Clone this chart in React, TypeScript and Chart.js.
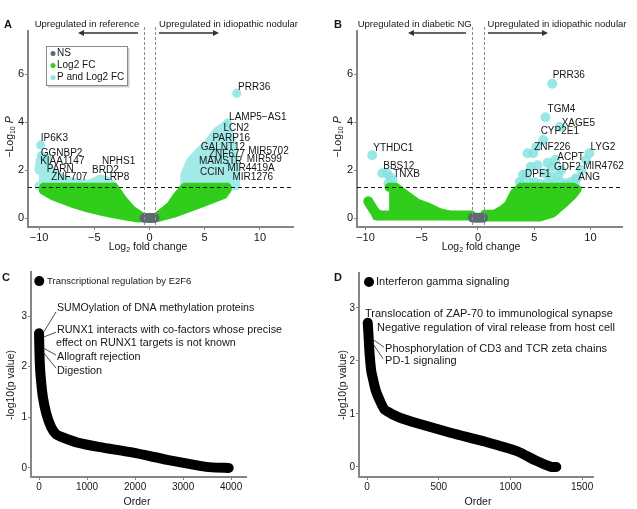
import React, { useEffect, useRef } from 'react';
import { Chart, registerables } from 'chart.js';

Chart.register(...registerables);

const FONT = '"Liberation Sans", Arial, Helvetica, sans-serif';
const AXIS_COLOR = '#858585';
const TEXT_COLOR = '#151515';
const GREEN = '#30cd1a';
const CYAN = '#a2eae7';
const CYAN_PT = 'rgba(135, 228, 224, 0.85)';
const NS_GRAY = '#5d6b70';

const FC_CUT = 0.5;
const P_CUT = 1.3;
const LEGEND_LABELS = ['NS', 'Log2 FC', 'P and Log2 FC'];

// ---------- Panel A : reference vs idiopathic nodular ----------
const A_NS_X = [-0.45, -0.2, 0, 0.2, 0.45];
const A_NS_Y = [0, 0, 0, 0, 0];
// green cloud, left lobe (upper / lower edge)
const A_GL_UP_X = [-9.6, -3.2, -2.4, -1.6, -0.6];
const A_GL_UP_Y = [1.28, 1.28, 0.75, 0.33, 0.02];
const A_GL_LO_X = [-9.6, -8.7, -7.0, -5.6, -4.3, -3.3, -2.0, -1.0, -0.6];
const A_GL_LO_Y = [1.15, 0.92, 0.62, 0.42, 0.28, 0.18, 0.07, 0.0, 0.02];
// green cloud, right lobe
const A_GR_UP_X = [0.7, 1.9, 2.5, 3.2, 7.05];
const A_GR_UP_Y = [0.05, 0.5, 0.9, 1.28, 1.28];
const A_GR_LO_X = [0.7, 2.2, 4.6, 6.7, 7.05];
const A_GR_LO_Y = [0.02, 0.2, 0.6, 0.98, 1.2];
// cyan cloud, left
const A_CL_UP_X = [-10.0, -9.9, -9.5, -9.0, -8.4, -7.5, -6.5, -5.5, -5.0, -4.4, -3.9, -3.4, -3.3];
const A_CL_UP_Y = [2.0, 2.4, 2.3, 2.0, 1.75, 1.55, 1.45, 1.4, 1.5, 1.62, 1.55, 1.4, 1.32];
const A_CL_LO_X = [-10.0, -3.3];
const A_CL_LO_Y = [1.35, 1.32];
// cyan cloud, right
const A_CR_UP_X = [3.15, 3.2, 3.7, 4.5, 5.3, 6.1, 6.9, 7.3, 7.6, 7.75, 7.8];
const A_CR_UP_Y = [1.35, 1.8, 2.35, 2.75, 3.1, 3.6, 3.85, 3.4, 2.8, 2.0, 1.35];
const A_CR_LO_X = [3.15, 7.8];
const A_CR_LO_Y = [1.35, 1.35];
const A_CYAN_PTS_X = [-9.85, -9.8, -9.3, 7.05, 7.9];
const A_CYAN_PTS_Y = [3.04, 2.6, 2.5, 3.96, 5.2];
const A_GENES = ['IP6K3', 'GGNBP2', 'KIAA1147', 'PARN', 'ZNF707', 'NPHS1', 'BRD2', 'LRP8', 'PRR36', 'LAMP5\u2212AS1', 'LCN2', 'PARP16', 'GALNT12', 'ZNF677', 'MIR5702', 'MAMSTR', 'MIR599', 'CCIN', 'MIR4419A', 'MIR1276'];
const A_GENE_X = [-9.85, -9.85, -9.9, -9.3, -8.9, -4.3, -5.2, -4.1, 8.03, 7.21, 6.7, 5.7, 4.64, 5.39, 8.94, 4.48, 8.82, 4.58, 7.06, 7.52];
const A_GENE_Y = [3.32, 2.72, 2.38, 2.04, 1.72, 2.35, 2.0, 1.7, 5.47, 4.22, 3.74, 3.32, 2.97, 2.67, 2.8, 2.35, 2.44, 1.89, 2.07, 1.7];

// ---------- Panel B : diabetic NG vs idiopathic nodular ----------
const B_NS_X = [-0.45, -0.2, 0, 0.2, 0.45];
const B_NS_Y = [0.01, 0.01, 0.01, 0.01, 0.01];
const B_HOOK_X = [-9.75, -9.5, -9.1, -8.8];
const B_HOOK_Y = [0.7, 0.5, 0.22, 0.12];
const B_BAND_X = [-9.0, -0.6];
const B_BAND_Y = [0.1, 0.1];
const B_GL_UP_X = [-7.9, -7.3, -6.5, -5.4, -4.4, -3.4, -2.5];
const B_GL_UP_Y = [1.28, 1.28, 1.0, 0.62, 0.45, 0.22, 0.12];
const B_GL_LO_X = [-7.9, -2.5];
const B_GL_LO_Y = [0.1, 0.1];
const B_GR_UP_X = [0.6, 1.5, 2.2, 2.7, 3.25, 3.8, 8.5, 8.8];
const B_GR_UP_Y = [0.16, 0.16, 0.35, 0.55, 1.05, 1.28, 1.28, 1.2];
const B_GR_LO_X = [0.6, 5.5, 6.6, 7.6, 8.4, 8.8];
const B_GR_LO_Y = [0.04, 0.04, 0.2, 0.6, 0.95, 1.2];
const B_CYAN_X = [-9.4, -8.5, -8.1, -7.8, -7.6, -7.95,
  6.6, 6.0, 7.3, 5.8, 5.2, 4.9, 4.4, 5.3, 6.2, 4.7, 5.9, 6.5, 4.0, 3.7, 4.3, 9.9, 9.6, 9.2, 8.7, 8.3, 6.85, 6.55, 7.14, 7.4, 8.77, 6.1, 7.8, 5.0,
  3.9, 4.6, 5.5, 6.8, 7.3, 8.0, 8.6];
const B_CYAN_Y = [2.62, 1.87, 1.87, 1.7, 1.58, 1.45,
  5.6, 4.2, 3.8, 3.25, 2.97, 2.7, 2.7, 2.2, 2.3, 2.14, 1.86, 1.72, 1.8, 1.5, 1.79, 2.7, 2.42, 2.0, 1.65, 1.5, 2.42, 2.14, 1.79, 2.0, 1.65, 1.45, 1.45, 1.5,
  1.4, 1.45, 1.42, 1.4, 1.5, 1.38, 1.42];
const B_GENES = ['YTHDC1', 'BBS12', 'TNXB', 'PRR36', 'TGM4', 'XAGE5', 'CYP2E1', 'ZNF226', 'LYG2', 'ACPT', 'MIR4762', 'GDF2', 'DPF1', 'ANG'];
const B_GENE_X = [-9.3, -8.42, -7.53, 6.64, 6.19, 7.44, 5.57, 5.0, 10.0, 7.05, 9.36, 6.76, 4.18, 8.92];
const B_GENE_Y = [2.9, 2.17, 1.82, 5.96, 4.53, 3.97, 3.6, 2.94, 2.94, 2.53, 2.17, 2.1, 1.82, 1.72];

const VOLCANO_X_TICKS = [-10, -5, 0, 5, 10];
const VOLCANO_Y_TICKS = [0, 2, 4, 6];

// ---------- Panel C : pathways ----------
const C_TOP_X = [5];
const C_TOP_Y = [3.69];
const C_CURVE_X = [0, 5, 10, 20, 40, 80, 150, 250, 350, 500, 800, 1270, 1960, 2670, 3350, 3600, 3950];
const C_CURVE_Y = [2.66, 2.45, 2.25, 2.0, 1.74, 1.4, 1.08, 0.81, 0.67, 0.6, 0.5, 0.41, 0.3, 0.16, 0.04, 0.01, 0.0];
const C_TERMS = ['Transcriptional regulation by E2F6', 'SUMOylation of DNA methylation proteins', 'RUNX1 interacts with co-factors whose precise', 'effect on RUNX1 targets is not known', 'Allograft rejection', 'Digestion'];
const C_TERM_X = [167, 375, 375, 354, 375, 375];
const C_TERM_Y = [3.69, 3.16, 2.72, 2.47, 2.19, 1.91];
const C_LEADERS = [[83, 2.66, 354, 3.08], [83, 2.58, 354, 2.68], [83, 2.37, 354, 2.23], [83, 2.29, 354, 1.97]];
const C_X_TICKS = [0, 1000, 2000, 3000, 4000];
const C_Y_TICKS = [0, 1, 2, 3];

// ---------- Panel D : pathways ----------
const D_TOP_X = [14];
const D_TOP_Y = [3.49];
const D_CURVE_X = [5, 10, 15, 22, 30, 45, 60, 88, 123, 180, 239, 356, 588, 820, 1053, 1169, 1285, 1320];
const D_CURVE_Y = [2.72, 2.5, 2.25, 2.0, 1.8, 1.62, 1.45, 1.26, 1.08, 0.99, 0.92, 0.82, 0.64, 0.48, 0.29, 0.13, 0.0, 0.0];
const D_TERMS = ['Interferon gamma signaling', 'Translocation of ZAP-70 to immunological synapse', 'Negative regulation of viral release from host cell', 'Phosphorylation of CD3 and TCR zeta chains', 'PD-1 signaling'];
const D_TERM_X = [63, -14, 70, 126, 126];
const D_TERM_Y = [3.49, 2.89, 2.62, 2.23, 2.0];
const D_LEADERS = [[28, 2.43, 119, 2.26], [28, 2.38, 112, 2.04]];
const D_X_TICKS = [0, 500, 1000, 1500];
const D_Y_TICKS = [0, 1, 2, 3];

// ---------- helpers ----------
const pts = (xs: number[], ys: number[]) => xs.map((x, i) => ({ x, y: ys[i] }));
const fmt = (v: any) => String(v).replace('-', '\u2212');

function edge(xs: number[], ys: number[], color: string, order: number, fill: any, bw = 9) {
  return {
    data: pts(xs, ys), showLine: true, fill, backgroundColor: color, borderColor: color,
    borderWidth: bw, borderJoinStyle: 'round', borderCapStyle: 'round', pointRadius: 0, tension: 0, order,
  };
}
// a cloud: upper edge, then lower edge filled to the upper one
function cloud(ux: number[], uy: number[], lx: number[], ly: number[], color: string, order: number) {
  return [edge(ux, uy, color, order, false), edge(lx, ly, color, order, '-1')];
}
function dots(xs: number[], ys: number[], color: string, r: number, order: number) {
  return { data: pts(xs, ys), backgroundColor: color, borderWidth: 0, pointRadius: r, showLine: false, order };
}
function band(xs: number[], ys: number[], color: string, width: number, order: number, tension = 0.2) {
  return {
    data: pts(xs, ys), showLine: true, fill: false, borderColor: color, backgroundColor: color,
    borderWidth: width, borderJoinStyle: 'round', borderCapStyle: 'round', pointRadius: 0, tension, order,
  };
}

function scales(o: any) {
  const base = {
    type: 'linear',
    grid: { display: true, drawOnChartArea: false, drawTicks: true, tickLength: 3, color: AXIS_COLOR, lineWidth: 1 },
    border: { display: true, color: AXIS_COLOR, width: 2 },
    title: { display: false },
  };
  return {
    x: {
      ...base, min: o.xmin, max: o.xmax,
      afterBuildTicks: (s: any) => { s.ticks = o.xt.map((v: number) => ({ value: v })); },
      afterFit: (s: any) => { s.height = o.xh; },
      ticks: { font: { family: FONT, size: o.fs }, color: TEXT_COLOR, padding: 1, maxRotation: 0, autoSkip: false, callback: fmt },
    },
    y: {
      ...base, min: o.ymin, max: o.ymax,
      afterBuildTicks: (s: any) => { s.ticks = o.yt.map((v: number) => ({ value: v })); },
      afterFit: (s: any) => { s.width = o.yw; },
      ticks: { font: { family: FONT, size: o.fs }, color: TEXT_COLOR, padding: 1, autoSkip: false, callback: fmt },
    },
  };
}

function text(ctx: CanvasRenderingContext2D, t: string, x: number, y: number, size: number, align: CanvasTextAlign = 'left', weight = 'normal') {
  ctx.font = `${weight} ${size}px ${FONT}`;
  ctx.textAlign = align;
  ctx.textBaseline = 'middle';
  ctx.fillStyle = TEXT_COLOR;
  ctx.fillText(t, x, y);
}

type Part = { t: string; s: number; dy?: number; it?: boolean };
function rich(ctx: CanvasRenderingContext2D, parts: Part[], cx: number, cy: number, rot = 0) {
  ctx.save();
  ctx.translate(cx, cy);
  if (rot) ctx.rotate(rot);
  let total = 0;
  const widths = parts.map((p) => {
    ctx.font = `${p.it ? 'italic ' : ''}${p.s}px ${FONT}`;
    const w = ctx.measureText(p.t).width;
    total += w;
    return w;
  });
  let x = -total / 2;
  ctx.textBaseline = 'middle';
  ctx.textAlign = 'left';
  ctx.fillStyle = TEXT_COLOR;
  parts.forEach((p, i) => {
    ctx.font = `${p.it ? 'italic ' : ''}${p.s}px ${FONT}`;
    ctx.fillText(p.t, x, p.dy || 0);
    x += widths[i];
  });
  ctx.restore();
}

function arrow(ctx: CanvasRenderingContext2D, x1: number, x2: number, y: number) {
  const dir = Math.sign(x2 - x1);
  ctx.strokeStyle = '#333';
  ctx.fillStyle = '#333';
  ctx.lineWidth = 1.6;
  ctx.beginPath();
  ctx.moveTo(x1, y);
  ctx.lineTo(x2 - dir * 4, y);
  ctx.stroke();
  ctx.beginPath();
  ctx.moveTo(x2, y);
  ctx.lineTo(x2 - dir * 6, y - 3);
  ctx.lineTo(x2 - dir * 6, y + 3);
  ctx.closePath();
  ctx.fill();
}

function volcanoDeco(chart: any, o: any) {
  const { ctx, chartArea: ca } = chart;
  const sx = chart.scales.x;
  const sy = chart.scales.y;
  ctx.save();
  ctx.lineWidth = 1;
  ctx.strokeStyle = '#8c8c8c';
  ctx.setLineDash([3, 2]);
  for (const v of [-FC_CUT, FC_CUT]) {
    const px = Math.round(sx.getPixelForValue(v)) + 0.5;
    ctx.beginPath();
    ctx.moveTo(px, ca.top - 4);
    ctx.lineTo(px, ca.bottom);
    ctx.stroke();
  }
  ctx.strokeStyle = '#111';
  ctx.setLineDash([4, 3]);
  const hy = Math.round(sy.getPixelForValue(P_CUT)) + 0.5;
  ctx.beginPath();
  ctx.moveTo(ca.left, hy);
  ctx.lineTo(ca.right, hy);
  ctx.stroke();
  ctx.setLineDash([]);

  text(ctx, o.letter, o.letterX, 25, 11, 'center', 'bold');
  o.headers.forEach((h: any) => text(ctx, h[0], h[1], 24, 9.5, 'center'));
  o.arrows.forEach((a: number[]) => arrow(ctx, a[0], a[1], 33));

  o.genes.forEach((g: string, i: number) => text(ctx, g, sx.getPixelForValue(o.gx[i]), sy.getPixelForValue(o.gy[i]), 10));

  rich(ctx, [{ t: '\u2212Log', s: 10.5 }, { t: '10', s: 7, dy: 3 }, { t: ' P', s: 10.5, it: true }], o.yTitleX, 137, -Math.PI / 2);
  rich(ctx, [{ t: 'Log', s: 10.5 }, { t: '2', s: 7, dy: 3 }, { t: ' fold change', s: 10.5 }], o.xTitleX, 247);

  if (o.legend) {
    ctx.fillStyle = 'rgba(0,0,0,0.2)';
    ctx.fillRect(48, 48, 81.5, 39.5);
    ctx.fillStyle = '#fff';
    ctx.fillRect(46.5, 46.5, 81, 39);
    ctx.strokeStyle = '#8a8a8a';
    ctx.lineWidth = 1;
    ctx.strokeRect(46.5, 46.5, 81, 39);
    const cols = [NS_GRAY, GREEN, '#8fe3e0'];
    const rows = [53.5, 65.5, 77.5];
    LEGEND_LABELS.forEach((l, i) => {
      ctx.fillStyle = cols[i];
      ctx.beginPath();
      ctx.arc(53, rows[i], 2.5, 0, Math.PI * 2);
      ctx.fill();
      text(ctx, l, 57, rows[i], 10);
    });
  }
  ctx.restore();
}

function orderDeco(chart: any, o: any) {
  const { ctx } = chart;
  const sx = chart.scales.x;
  const sy = chart.scales.y;
  ctx.save();
  text(ctx, o.letter, o.letterX, 23, 11, 'center', 'bold');
  ctx.strokeStyle = '#222';
  ctx.lineWidth = 0.8;
  o.leaders.forEach((l: number[]) => {
    ctx.beginPath();
    ctx.moveTo(sx.getPixelForValue(l[0]), sy.getPixelForValue(l[1]));
    ctx.lineTo(sx.getPixelForValue(l[2]), sy.getPixelForValue(l[3]));
    ctx.stroke();
  });
  o.terms.forEach((t: string, i: number) => text(ctx, t, sx.getPixelForValue(o.tx[i]), sy.getPixelForValue(o.ty[i]), o.sizes[i]));
  rich(ctx, [{ t: '-log10(p value)', s: 10.5 }], o.yTitleX, 130, -Math.PI / 2);
  text(ctx, 'Order', o.xTitleX, 247, 10.5, 'center');
  ctx.restore();
}

function baseOptions(padding: any, sc: any) {
  return {
    animation: false,
    responsive: false,
    devicePixelRatio: 1,
    events: [],
    layout: { padding },
    plugins: { legend: { display: false }, tooltip: { enabled: false } },
    scales: sc,
  };
}

function configA(): any {
  return {
    type: 'scatter',
    data: {
      datasets: [
        dots(A_NS_X, A_NS_Y, NS_GRAY, 5, 1),
        ...cloud(A_GL_UP_X, A_GL_UP_Y, A_GL_LO_X, A_GL_LO_Y, GREEN, 2),
        ...cloud(A_GR_UP_X, A_GR_UP_Y, A_GR_LO_X, A_GR_LO_Y, GREEN, 2),
        dots(A_CYAN_PTS_X, A_CYAN_PTS_Y, CYAN_PT, 4.5, 3),
        ...cloud(A_CL_UP_X, A_CL_UP_Y, A_CL_LO_X, A_CL_LO_Y, CYAN, 4),
        ...cloud(A_CR_UP_X, A_CR_UP_Y, A_CR_LO_X, A_CR_LO_Y, CYAN, 4),
      ],
    },
    options: baseOptions({ left: 0, top: 31, right: 25, bottom: 0 },
      scales({ xmin: -11, xmax: 13, ymin: -0.375, ymax: 7.8, xt: VOLCANO_X_TICKS, yt: VOLCANO_Y_TICKS, yw: 28, xh: 28, fs: 11 })),
    plugins: [{
      id: 'decoA',
      afterDraw: (c: any) => volcanoDeco(c, {
        letter: 'A', letterX: 8,
        headers: [['Upregulated in reference', 87], ['Upregulated in idiopathic nodular', 228.5]],
        arrows: [[138, 78], [159, 219]],
        genes: A_GENES, gx: A_GENE_X, gy: A_GENE_Y,
        yTitleX: 10, xTitleX: 148, legend: true,
      }),
    }],
  };
}

function configB(): any {
  return {
    type: 'scatter',
    data: {
      datasets: [
        dots(B_NS_X, B_NS_Y, NS_GRAY, 5, 1),
        band(B_HOOK_X, B_HOOK_Y, GREEN, 10, 2, 0),
        band(B_BAND_X, B_BAND_Y, GREEN, 10, 2, 0),
        ...cloud(B_GL_UP_X, B_GL_UP_Y, B_GL_LO_X, B_GL_LO_Y, GREEN, 2),
        ...cloud(B_GR_UP_X, B_GR_UP_Y, B_GR_LO_X, B_GR_LO_Y, GREEN, 2),
        dots(B_CYAN_X, B_CYAN_Y, CYAN_PT, 5, 3),
      ],
    },
    options: baseOptions({ left: 0, top: 31, right: 15, bottom: 0 },
      scales({ xmin: -10.75, xmax: 12.8, ymin: -0.375, ymax: 7.8, xt: VOLCANO_X_TICKS, yt: VOLCANO_Y_TICKS, yw: 39, xh: 28, fs: 11 })),
    plugins: [{
      id: 'decoB',
      afterDraw: (c: any) => volcanoDeco(c, {
        letter: 'B', letterX: 20,
        headers: [['Upregulated in diabetic NG', 96.7], ['Upregulated in idiopathic nodular', 239]],
        arrows: [[148, 90], [170, 230]],
        genes: B_GENES, gx: B_GENE_X, gy: B_GENE_Y,
        yTitleX: 20, xTitleX: 163, legend: false,
      }),
    }],
  };
}

function configC(): any {
  return {
    type: 'scatter',
    data: {
      datasets: [
        dots(C_TOP_X, C_TOP_Y, '#000', 5, 1),
        band(C_CURVE_X, C_CURVE_Y, '#000', 10, 2),
      ],
    },
    options: baseOptions({ left: 0, top: 17, right: 72, bottom: 0 },
      scales({ xmin: -167, xmax: 4310, ymin: -0.18, ymax: 3.87, xt: C_X_TICKS, yt: C_Y_TICKS, yw: 31, xh: 32, fs: 10 })),
    plugins: [{
      id: 'decoC',
      afterDraw: (c: any) => orderDeco(c, {
        letter: 'C', letterX: 6,
        terms: C_TERMS, tx: C_TERM_X, ty: C_TERM_Y, sizes: [9.5, 10.6, 10.8, 10.8, 10.8, 10.8],
        leaders: C_LEADERS, yTitleX: 11, xTitleX: 137,
      }),
    }],
  };
}

function configD(): any {
  return {
    type: 'scatter',
    data: {
      datasets: [
        dots(D_TOP_X, D_TOP_Y, '#000', 5, 1),
        band(D_CURVE_X, D_CURVE_Y, '#000', 10, 2),
      ],
    },
    options: baseOptions({ left: 0, top: 18, right: 44, bottom: 0 },
      scales({ xmin: -56, xmax: 1576, ymin: -0.19, ymax: 3.66, xt: D_X_TICKS, yt: D_Y_TICKS, yw: 41, xh: 32, fs: 10 })),
    plugins: [{
      id: 'decoD',
      afterDraw: (c: any) => orderDeco(c, {
        letter: 'D', letterX: 20,
        terms: D_TERMS, tx: D_TERM_X, ty: D_TERM_Y, sizes: [11, 11, 11, 11, 11],
        leaders: D_LEADERS, yTitleX: 25, xTitleX: 160,
      }),
    }],
  };
}

function Panel({ left, top, width, height, build }: any) {
  const ref = useRef<HTMLCanvasElement>(null);
  useEffect(() => {
    const chart = new Chart(ref.current as HTMLCanvasElement, build());
    return () => chart.destroy();
  }, []);
  return (
    <canvas
      ref={ref}
      width={width}
      height={height}
      style={{ position: 'absolute', left, top, width, height, display: 'block' }}
    />
  );
}

export default function App() {
  return (
    <div style={{ position: 'absolute', left: 0, top: 0, width: 637, height: 509, background: '#fff', overflow: 'hidden' }}>
      <Panel left={0} top={0} width={318} height={255} build={configA} />
      <Panel left={318} top={0} width={319} height={255} build={configB} />
      <Panel left={0} top={255} width={318} height={254} build={configC} />
      <Panel left={318} top={255} width={319} height={254} build={configD} />
    </div>
  );
}
